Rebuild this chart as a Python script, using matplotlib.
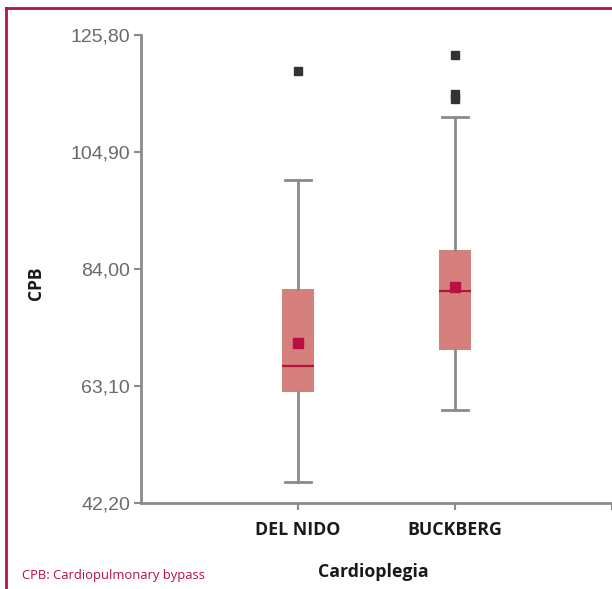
import matplotlib.pyplot as plt
from matplotlib.lines import Line2D

# group labels and box statistics
groups = ["DEL NIDO", "BUCKBERG"]
q1 = [62.0, 69.5]
med = [66.7, 80.0]
q3 = [80.4, 87.4]
whislo = [46.0, 58.9]
whishi = [99.9, 111.2]
means = [70.8, 80.7]
outliers = [[119.4], [122.2, 115.3, 114.4]]

yticks = [42.20, 63.10, 84.00, 104.90, 125.80]

crimson = "#b8103f"
box_fill = "#d6807d"
axis_grey = "#8a8a8e"

stats = []
for i in range(len(groups)):
    stats.append(dict(label=groups[i], q1=q1[i], med=med[i], q3=q3[i],
                      whislo=whislo[i], whishi=whishi[i], mean=means[i],
                      fliers=outliers[i]))

fig = plt.figure(figsize=(6.12, 5.89), dpi=100)
ax = fig.add_axes([141 / 612, 86 / 589, 471 / 612, 468 / 589])

ax.bxp(stats, positions=[1, 2], widths=0.2, patch_artist=True,
       showmeans=True, capwidths=0.17,
       boxprops=dict(facecolor=box_fill, edgecolor="none", linewidth=0),
       medianprops=dict(color=crimson, linewidth=1.6),
       meanprops=dict(marker="s", markerfacecolor=crimson,
                      markeredgecolor=crimson, markersize=6.5),
       whiskerprops=dict(color=axis_grey, linewidth=2),
       capprops=dict(color=axis_grey, linewidth=2),
       flierprops=dict(marker="s", markerfacecolor="#333333",
                       markeredgecolor="#333333", markersize=6))

ax.set_xlim(0, 3)
ax.set_ylim(42.2, 125.8)
ax.set_xticks([1, 2, 3])
ax.set_xticklabels(groups + [""], fontfamily="Open Sans", fontweight="bold",
                   fontsize=12.8, color="#1a1a1a")
ax.set_yticks(yticks)
ax.set_yticklabels([("%.2f" % v).replace(".", ",") for v in yticks],
                   fontfamily="Liberation Sans", fontsize=14, color="#6a6a6a")

for side in ["top", "right"]:
    ax.spines[side].set_visible(False)
for side in ["left", "bottom"]:
    ax.spines[side].set_color(axis_grey)
    ax.spines[side].set_linewidth(2)
ax.tick_params(axis="both", colors=axis_grey, width=1.5, length=5)
ax.tick_params(axis="x", pad=8)
ax.tick_params(axis="y", pad=3)
for lab in ax.get_xticklabels():
    lab.set_color("#1a1a1a")
for lab in ax.get_yticklabels():
    lab.set_color("#6a6a6a")

ax.set_xlabel("Cardioplegia", fontfamily="Open Sans", fontweight="bold",
              fontsize=12.8, color="#1a1a1a")
ax.xaxis.set_label_coords((373 - 141) / 471, -(572 - 503) / 468)
ax.xaxis.label.set_va("center")
ax.set_ylabel("CPB", fontfamily="Open Sans", fontweight="bold",
              fontsize=12.5, color="#1a1a1a")
ax.yaxis.set_label_coords(-(141 - 36) / 471, (503 - 283) / 468)
ax.yaxis.label.set_va("center")

fig.text(22 / 612, 1 - 576 / 589, "CPB: Cardiopulmonary bypass",
         fontfamily="Open Sans", fontsize=9.4, color=crimson, va="center")

# crimson frame, top and left
fig.add_artist(Line2D([6 / 612, 1], [1 - 8 / 589, 1 - 8 / 589],
                      color=crimson, linewidth=2))
fig.add_artist(Line2D([6 / 612, 6 / 612], [1 - 8 / 589, 0],
                      color=crimson, linewidth=2))

fig.savefig("out.png", dpi=100)
